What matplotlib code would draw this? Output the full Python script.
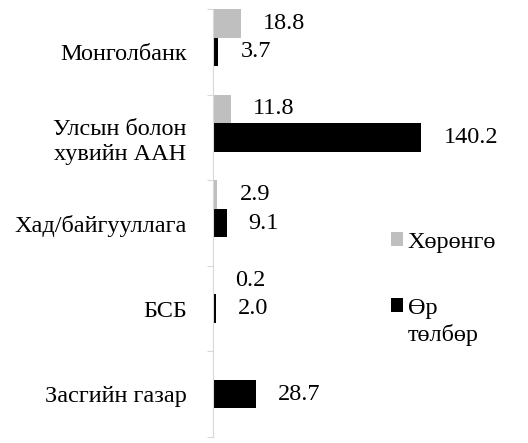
import numpy as np
import matplotlib
matplotlib.use("Agg")
import matplotlib.pyplot as plt
from matplotlib import font_manager
from matplotlib.font_manager import FontProperties

path = font_manager.findfont(FontProperties(family="Liberation Serif"))
fp = FontProperties(fname=path, size=17.5)

categories = ["Монголбанк", "Улсын болон\nхувийн ААН", "Хад/байгууллага", "БСБ", "Засгийн газар"]
assets = [18.8, 11.8, 2.9, 0.2, np.nan]
liabilities = [3.7, 140.2, 9.1, 2.0, 28.7]
series_names = ["Хөрөнгө", "Өр"]
wrap_line = "төлбөр"

fig = plt.figure(figsize=(5.28, 4.43), dpi=100)
ax = fig.add_axes([213 / 528, 6 / 443, 315 / 528, 428 / 443])

y = np.arange(len(categories))
h = 1 / 3
a_w = np.nan_to_num(assets)
b1 = ax.barh(y - h, a_w, height=h, color="#bfbfbf", label=series_names[0])
b2 = ax.barh(y, liabilities, height=h, color="#000000", label=series_names[1])

ax.bar_label(b1, labels=["" if np.isnan(v) else f"{v:.1f}" for v in assets],
             padding=16, fontproperties=fp)
ax.bar_label(b2, labels=[f"{v:.1f}" for v in liabilities], padding=16,
             fontproperties=fp)

ax.set_xlim(0, 212)
ax.set_ylim(len(categories) - 0.5, -0.5)
ax.set_xticks([])
ax.set_yticks(y)
ax.set_yticklabels(categories, fontproperties=fp)
for lab in ax.get_yticklabels():
    lab.set_multialignment("center")
    lab.set_linespacing(1.25)
ax.set_yticks(np.arange(len(categories) + 1) - 0.5, minor=True)
ax.tick_params(axis="y", which="major", length=0, pad=19)
ax.tick_params(axis="y", which="minor", length=4, color="#d9d9d9", width=0.8)
for s in ["top", "right", "bottom"]:
    ax.spines[s].set_visible(False)
ax.spines["left"].set_color("#d9d9d9")
ax.spines["left"].set_linewidth(0.8)

leg = fig.legend(handles=[b1, b2], labels=series_names, loc="upper left",
                 bbox_to_anchor=(369 / 528, 1 - 210 / 443), frameon=False,
                 prop=fp, handlelength=0.5, handleheight=0.5,
                 handletextpad=0.2, labelspacing=1.85)

# second line of the wrapped legend label, under "Өр"
fig.canvas.draw()
bb = leg.get_texts()[1].get_window_extent()
fig.text(bb.x0 / 528, (bb.y0 - 27) / 443, wrap_line, fontproperties=fp,
         va="bottom", ha="left")

fig.savefig("out.png", dpi=100)
